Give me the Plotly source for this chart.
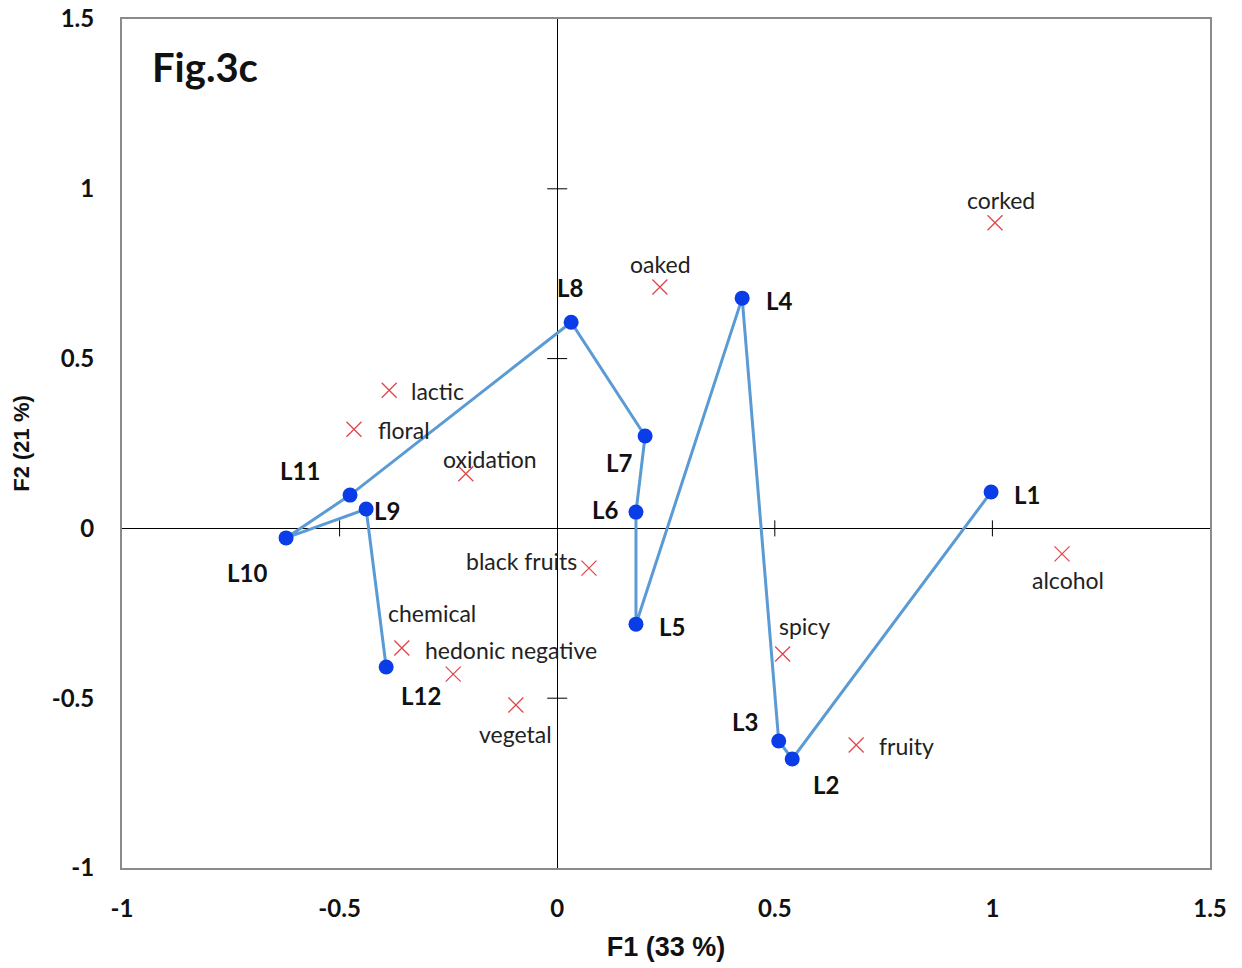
import plotly.graph_objects as go

# ---- data ----
obs_names = ["L1", "L2", "L3", "L4", "L5", "L6", "L7", "L8", "L11", "L10", "L9", "L12"]
obs_f1 = [0.997, 0.540, 0.509, 0.425, 0.181, 0.181, 0.202, 0.032, -0.476, -0.623, -0.439, -0.393]
obs_f2 = [0.107, -0.679, -0.626, 0.678, -0.282, 0.048, 0.272, 0.607, 0.098, -0.028, 0.057, -0.408]

var_names = ["corked", "oaked", "lactic", "floral", "oxidation", "black fruits",
             "chemical", "hedonic negative", "vegetal", "spicy", "fruity", "alcohol"]
var_f1 = [1.006, 0.236, -0.386, -0.467, -0.210, 0.073, -0.239, -0.357, -0.095, 0.518, 0.687, 1.160]
var_f2 = [0.900, 0.711, 0.407, 0.292, 0.161, -0.117, -0.429, -0.352, -0.520, -0.370, -0.638, -0.075]

x_ticks = [-1, -0.5, 0, 0.5, 1, 1.5]
y_ticks = [-1, -0.5, 0, 0.5, 1, 1.5]
x_tick_text = ["-1", "-0.5", "0", "0.5", "1", "1.5"]
y_tick_text = ["-1", "-0.5", "0", "0.5", "1", "1.5"]

# ---- label offsets (pixels, dx right, dy down) ----
obs_off = {"L1": (36, 2), "L2": (34, 26), "L3": (-34, -19), "L4": (37, 2), "L5": (36, 2),
           "L6": (-31, -3), "L7": (-26, 26), "L8": (-1, -35), "L9": (21, 1),
           "L10": (-39, 35), "L11": (-50, -25), "L12": (35, 29)}
var_off = {"corked": (6, -23), "oaked": (1, -23), "lactic": (48, 1), "floral": (50, 1),
           "oxidation": (24, -15), "black fruits": (-67, -7), "chemical": (-21, -61),
           "hedonic negative": (109, 2), "vegetal": (0, 29), "spicy": (22, -28),
           "fruity": (50, 1), "alcohol": (6, 26)}

FONT = "Lato, 'Open Sans', sans-serif"
ARIAL = "'Liberation Sans', Arial, sans-serif"

fig = go.Figure()

fig.add_trace(go.Scatter(
    x=var_f1, y=var_f2, mode="markers",
    marker=dict(symbol="x-thin-open", size=15, color="#e0474c",
                line=dict(width=1.3, color="#e0474c")),
    hoverinfo="skip", showlegend=False))

fig.add_trace(go.Scatter(
    x=obs_f1, y=obs_f2, mode="lines+markers",
    line=dict(color="#5b9bd5", width=3),
    marker=dict(symbol="circle", size=15, color="#0a3ce8"),
    hoverinfo="skip", showlegend=False))

for n, x, y in zip(var_names, var_f1, var_f2):
    dx, dy = var_off[n]
    fig.add_annotation(x=x, y=y, text=n, showarrow=False, xshift=dx, yshift=-dy,
                       font=dict(family=FONT, size=23, color="#222222"))

for n, x, y in zip(obs_names, obs_f1, obs_f2):
    dx, dy = obs_off[n]
    fig.add_annotation(x=x, y=y, text="<b>%s</b>" % n, showarrow=False, xshift=dx, yshift=-dy,
                       font=dict(family=FONT, size=24, color="#111111"))

fig.add_annotation(xref="paper", yref="paper", x=0.026, y=0.943, xanchor="left", yanchor="middle",
                   text="<b>Fig.3c</b>", showarrow=False,
                   font=dict(family=FONT, size=40, color="#111111"))

# crossing tick marks on zero lines
for v in x_ticks:
    if v not in (0, x_ticks[0], x_ticks[-1]):
        fig.add_shape(type="line", xref="x", yref="y", x0=v, x1=v, ysizemode="pixel",
                      yanchor=0, y0=-8, y1=8, line=dict(color="black", width=1))
for v in y_ticks:
    if v not in (0, y_ticks[0], y_ticks[-1]):
        fig.add_shape(type="line", xref="x", yref="y", y0=v, y1=v, xsizemode="pixel",
                      xanchor=0, x0=-10, x1=10, line=dict(color="black", width=1))

fig.update_layout(
    width=1242, height=968,
    margin=dict(l=122, r=32, t=19, b=100, autoexpand=False),
    plot_bgcolor="white", paper_bgcolor="white",
    font=dict(family=FONT, color="#111111"),
)
fig.update_xaxes(
    range=[-1, 1.5], tickvals=x_ticks, ticktext=x_tick_text, showgrid=False,
    zeroline=True, zerolinecolor="black", zerolinewidth=1,
    showline=True, linecolor="#8a8a8a", linewidth=2, mirror=True,
    ticks="", ticklabelstandoff=18, automargin=False, ticklabeloverflow="allow",
    tickfont=dict(family=FONT, size=24, color="#111111", weight="bold"),
    title=dict(text="<b>F1 (33 %)</b>", font=dict(family=ARIAL, size=27, color="#111111"), standoff=16),
)
fig.update_yaxes(
    range=[-1, 1.5], tickvals=y_ticks, ticktext=y_tick_text, showgrid=False,
    zeroline=True, zerolinecolor="black", zerolinewidth=1,
    showline=True, linecolor="#8a8a8a", linewidth=2, mirror=True,
    ticks="", ticklabelstandoff=21, automargin=False, ticklabeloverflow="allow",
    tickfont=dict(family=FONT, size=24, color="#111111", weight="bold"),
    title=dict(text="<b>F2 (21 %)</b>", font=dict(family=ARIAL, size=22, color="#111111"), standoff=16),
)

fig.write_html("out.html", config={"displayModeBar": False},
               post_script="document.body.style.margin='0';document.body.style.overflow='hidden';")
